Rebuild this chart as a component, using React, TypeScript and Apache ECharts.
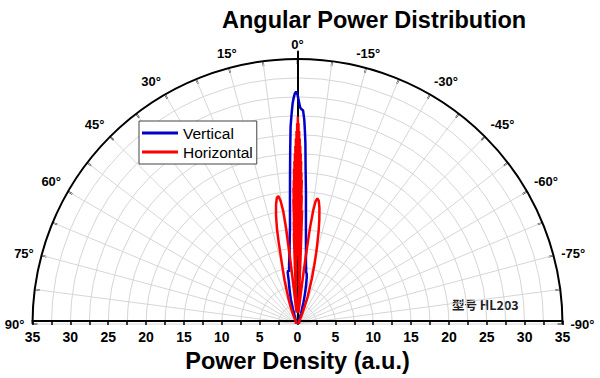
import React, { useEffect, useRef } from "react";
import * as echarts from "echarts";

// [angle in degrees, power density (a.u.)]
const verticalPattern: [number, number][] = [
  [-90, 0.2], [-60, 0.2], [-40, 0.3], [-30, 0.35], [-25, 0.5], [-22, 0.7], [-20, 0.9],
  [-18.5, 1.5], [-17, 2.0], [-15.5, 2.9], [-14.5, 3.6], [-13.7, 4.2], [-12.5, 5.2],
  [-11.2, 6.3], [-10.3, 6.8], [-9.5, 6.9], [-8.7, 7.5], [-8, 8.0], [-7, 9.2], [-6, 10.7],
  [-5.2, 12.3], [-4.5, 14.2], [-3.7, 17.3], [-3, 20.5], [-2.5, 23.9], [-2.2, 25.5],
  [-1.9, 27], [-1.5, 28.2], [-1.0, 28.4], [-0.7, 28.6], [-0.4, 29.3], [0, 30.3],
  [0.37, 30.7], [0.7, 30.4], [1.0, 29.8], [1.25, 29.2], [1.6, 27.8], [2.0, 26.1],
  [2.4, 23], [2.9, 19.5], [3.5, 16.3], [4.4, 12.9], [5.2, 11.3], [6, 10], [7, 8.8],
  [8, 8.0], [9, 7.0], [10, 7.2], [10.8, 6.9], [11.5, 5.8], [12.5, 5.0], [13.5, 4.3],
  [15, 3.4], [17, 2.1], [19, 1.2], [21, 0.8], [25, 0.5], [30, 0.35], [40, 0.3],
  [60, 0.2], [90, 0.2],
];

const horizontalPattern: [number, number][] = [
  [-90, 0.2], [-50, 0.25], [-40, 0.3], [-32, 0.45], [-27, 0.9], [-24.5, 1.6], [-22.5, 2.3],
  [-20.5, 3.8], [-19, 4.8], [-17.5, 6.3], [-16, 8.0], [-14.8, 9.6], [-13.8, 11.0],
  [-12.8, 12.6], [-11.8, 14.1], [-10.7, 15.6], [-9.8, 16.5], [-9.0, 16.8], [-8.4, 16.4],
  [-7.9, 15.2], [-7.4, 12.8], [-7.0, 9.5], [-6.6, 6.5], [-6.1, 3.8], [-5.5, 2.2],
  [-4.8, 1.5], [-4.0, 1.8], [-3.5, 2.5], [-3.0, 4], [-2.6, 9], [-2.3, 15], [-2.2, 5],
  [-2.1, 13], [-2.0, 6], [-1.9, 17], [-1.8, 6.5], [-1.7, 19], [-1.6, 7], [-1.5, 20],
  [-1.4, 8], [-1.3, 21.5], [-1.2, 8.5], [-1.1, 22.5], [-1.0, 9], [-0.9, 23.5], [-0.8, 10],
  [-0.7, 24.5], [-0.6, 11], [-0.5, 25.5], [-0.4, 12], [-0.3, 26.5], [-0.2, 13],
  [-0.1, 27.4], [0, 13.5], [0.1, 26.5], [0.2, 13], [0.3, 25.5], [0.4, 12], [0.5, 24.5],
  [0.6, 11], [0.7, 23.5], [0.8, 10], [0.9, 22.5], [1.0, 9], [1.1, 21.5], [1.2, 8.5],
  [1.3, 20.5], [1.4, 8], [1.5, 19], [1.6, 7], [1.7, 18], [1.8, 6.5], [1.9, 16.5],
  [2.0, 5.5], [2.1, 13.5], [2.2, 5], [2.3, 12], [2.6, 7.5], [3.0, 3.5], [3.5, 2.2],
  [4.0, 1.6], [4.6, 1.5], [5.2, 2.2], [5.7, 3.5], [6.1, 6.0], [6.5, 9.5], [6.8, 12.8],
  [7.2, 15.0], [7.8, 16.4], [8.5, 17.1], [9.3, 16.9], [10.2, 16.0], [11.2, 14.6],
  [12.2, 12.8], [13.0, 11.0], [13.8, 9.3], [15, 7.6], [16.5, 6.0], [18, 4.6], [20, 3.3],
  [22.5, 2.2], [25, 1.4], [28, 0.8], [33, 0.4], [40, 0.3], [50, 0.25], [90, 0.2],
];

const seriesNames = ["Vertical", "Horizontal"];
const seriesColors = ["#0000CC", "#FF0000"];
const titleText = "Angular Power Distribution";
const axisTitle = "Power Density (a.u.)";
const modelNote = "型号 HL203";

const FONT = "'Liberation Sans', Arial, sans-serif";
const CX = 297.5;
const CY = 324;
const R = 265;
const LEGEND_ICON = "path://M0,0 M36,16 M0,6.5 L36,6.5 L36,9.5 L0,9.5 Z";

export default function App() {
  const ref = useRef<HTMLDivElement>(null);
  useEffect(() => {
    document.body.style.margin = "0";
    const chart = echarts.init(ref.current!, null, { renderer: "svg" });
    const unit = R / 35;
    chart.setOption({
      animation: false,
      backgroundColor: "#fff",
      title: {
        text: titleText,
        left: 217,
        top: 3,
        textStyle: { fontFamily: FONT, fontSize: 23.5, fontWeight: "bold", color: "#000" },
      },
      legend: {
        orient: "vertical",
        left: 139,
        top: 121,
        data: seriesNames.map((n) => ({ name: n, icon: LEGEND_ICON })),
        backgroundColor: "#fff",
        borderColor: "#444",
        borderWidth: 1,
        borderRadius: 0,
        padding: [4, 4, 4, 3],
        itemGap: 3,
        itemWidth: 36,
        itemHeight: 16,
        textStyle: { fontFamily: FONT, fontSize: 15.5, color: "#000" },
      },
      polar: { center: [CX, CY], radius: R },
      angleAxis: {
        type: "value",
        min: -90,
        max: 90,
        interval: 7.5,
        startAngle: 0,
        endAngle: 180,
        clockwise: false,
        axisLine: { show: true, lineStyle: { color: "#000", width: 2 } },
        axisTick: { show: true, inside: true, length: 5, lineStyle: { color: "#000", width: 1.5 } },
        axisLabel: {
          formatter: (v: number) => (Math.abs(v % 15) < 1e-6 ? `${v}°` : ""),
          fontFamily: FONT,
          fontSize: 13,
          fontWeight: "bold",
          color: "#000",
          margin: 8,
        },
        splitLine: { show: true, lineStyle: { color: "#d6d6d6", width: 1 } },
      },
      radiusAxis: {
        type: "value",
        min: 0,
        max: 35,
        interval: 2.5,
        axisLine: { show: false },
        axisTick: { show: false },
        axisLabel: { show: false },
        splitLine: { show: true, lineStyle: { color: "#d6d6d6", width: 1 } },
      },
      grid: {
        left: CX - R,
        width: 2 * R,
        top: CY - 36 * unit,
        height: 36 * unit,
      },
      xAxis: {
        type: "value",
        min: -35,
        max: 35,
        interval: 5,
        position: "bottom",
        axisLine: { show: true, onZero: false, lineStyle: { color: "#000", width: 2 } },
        axisTick: { show: true, inside: false, length: 4, lineStyle: { color: "#000", width: 1.5 } },
        minorTick: { show: true, splitNumber: 2, length: 4, lineStyle: { color: "#000", width: 1.5 } },
        axisLabel: {
          formatter: (v: number) => String(Math.abs(v)),
          fontFamily: FONT,
          fontSize: 14,
          fontWeight: "bold",
          color: "#000",
          margin: 9,
        },
        splitLine: { show: false },
        name: axisTitle,
        nameLocation: "middle",
        nameGap: 26,
        nameTextStyle: { fontFamily: FONT, fontSize: 23.5, fontWeight: "bold", color: "#000" },
      },
      yAxis: {
        type: "value",
        min: 0,
        max: 36,
        axisLine: { show: true, onZero: true, lineStyle: { color: "#000", width: 2 } },
        axisTick: { show: false },
        axisLabel: { show: false },
        splitLine: { show: false },
      },
      graphic: [
        {
          type: "text",
          left: 452,
          top: 298,
          style: {
            text: modelNote,
            fontFamily: "'Noto Sans CJK SC', sans-serif",
            fontSize: 12.5,
            fontWeight: "bold",
            fill: "#222",
          },
        },
      ],
      series: [
        {
          name: seriesNames[0],
          type: "line",
          coordinateSystem: "polar",
          showSymbol: false,
          symbol: "none",
          data: verticalPattern.map(([a, p]) => [p, a]),
          lineStyle: { color: seriesColors[0], width: 2.5 },
          itemStyle: { color: seriesColors[0] },
          z: 3,
        },
        {
          name: seriesNames[1],
          type: "line",
          coordinateSystem: "polar",
          showSymbol: false,
          symbol: "none",
          data: horizontalPattern.map(([a, p]) => [p, a]),
          lineStyle: { color: seriesColors[1], width: 2.5 },
          itemStyle: { color: seriesColors[1] },
          z: 4,
        },
      ],
    });
    return () => chart.dispose();
  }, []);
  return <div ref={ref} style={{ width: 600, height: 378 }} />;
}
